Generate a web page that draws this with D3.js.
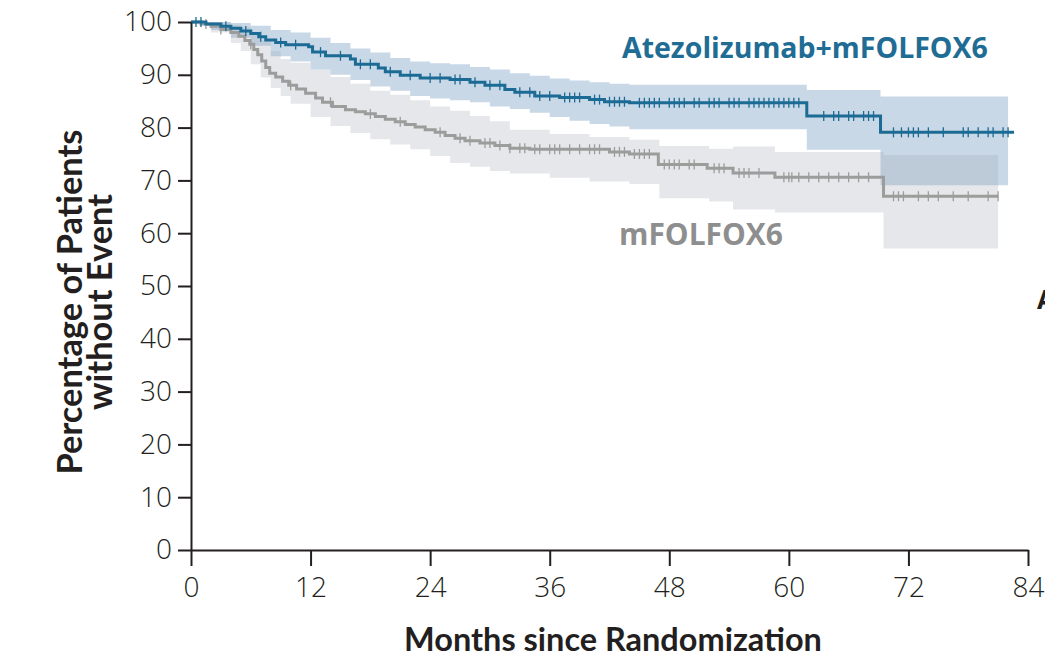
<!DOCTYPE html>
<html><head><meta charset="utf-8">
<script src="https://cdn.jsdelivr.net/npm/d3@7"></script>
<style>html,body{margin:0;padding:0;background:#fff;overflow:hidden}</style>
</head><body>
<svg id="chart" width="1045" height="660"></svg>
<script>
// ---- Data ----
const xTickValues = [0, 12, 24, 36, 48, 60, 72, 84];
const yTickValues = [0, 10, 20, 30, 40, 50, 60, 70, 80, 90, 100];
const seriesNames = ["Atezolizumab+mFOLFOX6", "mFOLFOX6"];

// Atezolizumab+mFOLFOX6 Kaplan-Meier steps
const atezoTime = [0, 1.5, 3, 4, 5, 6, 6.8, 7.5, 8.5, 9.5, 11.8, 12.2, 13.5, 16, 16.5, 18.8, 19.5, 21, 23, 26, 28, 29.5, 31.5, 32.5, 34.5, 37, 40, 41.5, 44, 61.8, 69.2, 82.6];
const atezoSurv = [100, 99.6, 99.2, 98.8, 98.3, 97.8, 97.2, 96.6, 96.1, 95.7, 95.3, 94.3, 93.6, 93.0, 92.0, 91.3, 90.6, 89.9, 89.4, 89.1, 88.6, 88.0, 87.2, 86.7, 86.0, 85.7, 85.3, 84.9, 84.7, 82.2, 79.1, 79.1];
const atezoCITime = [0, 2, 4, 6, 8, 10, 12, 14, 16, 18, 20, 22, 24, 26, 28, 30, 32, 34, 36, 38, 40, 42, 44, 61.8, 69.2, 82];
const atezoLower = [100, 98.5, 97, 95.5, 93.5, 92.5, 91, 90, 89, 87.8, 87, 86, 85.5, 85.2, 84.8, 84, 83.5, 82.8, 82, 81.3, 80.7, 80.2, 79.7, 75.8, 69.1, 69.1];
const atezoUpper = [100, 100, 99.8, 99.3, 98.5, 98, 97, 96, 95, 94.2, 93.2, 92.5, 92.2, 92, 91.5, 91, 90.3, 89.8, 89.3, 88.9, 88.6, 88.3, 88.1, 87.1, 85.9, 85.9];
const atezoCensor = [0.5, 1, 3.5, 5.5, 7, 9, 10.5, 13, 15, 17, 18, 20, 22, 24, 25, 26.5, 27, 28.5, 30, 31, 33, 34, 35, 36, 37.5, 38, 38.5, 39, 40.5, 41, 42, 42.5, 43, 43.5, 45, 45.5, 46, 46.5, 47, 48, 48.5, 49, 49.5, 50.5, 51, 52, 52.5, 53, 54, 54.5, 55, 56, 56.5, 57, 57.5, 58, 58.5, 59, 59.5, 60, 60.5, 61, 63.5, 64.5, 65, 66, 66.5, 67.5, 68, 68.5, 70.5, 71.3, 72, 72.5, 73, 74, 75.5, 77.5, 78, 79, 80, 80.5, 81.5, 82];

// mFOLFOX6 Kaplan-Meier steps
const folfoxTime = [0, 1, 2, 3, 4, 4.8, 5.4, 5.9, 6.3, 6.7, 7.1, 7.5, 7.9, 8.5, 9.2, 9.8, 10.6, 11.5, 12.5, 13.2, 14.2, 15.5, 16.5, 17.5, 18.5, 19.5, 20.5, 21.5, 22.5, 23.5, 24.5, 25.5, 26.5, 27.5, 29, 30.5, 32, 34, 42, 44, 46.9, 51.8, 54.4, 58.6, 69.5, 81];
const folfoxSurv = [100, 99.6, 99.2, 98.6, 98.0, 97.3, 96.5, 95.8, 94.8, 93.8, 92.6, 91.4, 90.3, 89.6, 88.8, 88.0, 87.3, 86.5, 85.6, 84.8, 84.0, 83.4, 83.0, 82.6, 82.1, 81.6, 81.1, 80.6, 80.1, 79.6, 79.1, 78.5, 78.0, 77.5, 77.1, 76.6, 76.1, 75.9, 75.4, 75.0, 73.0, 72.3, 71.4, 70.6, 67.0, 67.0];
const folfoxCITime = [0, 2, 4, 5, 6, 7, 8, 9, 10, 12, 14, 16, 18, 20, 22, 24, 26, 28, 30, 32, 36, 40, 44, 47, 52, 54.4, 58.6, 69.5, 81];
const folfoxLower = [100, 98, 96, 94.5, 92, 89.5, 87.5, 86, 84.5, 82, 80.3, 79, 77.8, 76.8, 75.9, 74.6, 73.3, 72.6, 71.8, 71.3, 70.5, 69.8, 69.3, 66.6, 66, 64.5, 63.9, 57.1, 57.1];
const folfoxUpper = [100, 100, 99.5, 99, 98, 96.5, 94.5, 93, 92.3, 91, 89.6, 88.3, 87, 86.2, 85.2, 84, 83.2, 82.2, 81.2, 79.6, 78.8, 78.2, 77.7, 76.5, 76, 76.4, 75.4, 74.8, 74.8];
const folfoxCensor = [1.5, 3, 6, 10, 14, 18, 21, 25, 27, 28, 29.5, 30, 31, 32, 33, 33.5, 34.5, 35, 36, 36.5, 37, 38, 39, 40, 40.5, 41, 42.5, 43, 43.5, 44.5, 45, 45.5, 46, 47.5, 48, 48.5, 49, 50, 50.5, 52.5, 53, 53.5, 55, 55.5, 56, 57, 59.5, 60, 60.3, 61, 62, 63, 64, 65, 66, 67, 68, 70.5, 71, 71.5, 73, 74, 75, 76.5, 78, 80, 81];

// ---- Layout ----
const svg = d3.select("#chart");
const x = d3.scaleLinear().domain([0, 84]).range([191, 1028]);
const y = d3.scaleLinear().domain([0, 100]).range([550, 22]);

const BLUE = "#1b6b95", BLUE_BAND = "#c8d8e7", GRAY = "#9c9c9c", GRAY_BAND = "#9fa4af";

function toPts(t, v) { return t.map((d, i) => [d, v[i]]); }
function toBand(t, lo, hi) { return t.map((d, i) => ({t: d, lo: lo[i], hi: hi[i]})); }

const area = d3.area().curve(d3.curveStepAfter)
  .x(d => x(d.t)).y0(d => y(d.lo)).y1(d => y(d.hi));
const line = d3.line().curve(d3.curveStepAfter)
  .x(d => x(d[0])).y(d => y(d[1]));

// bands
svg.append("path").attr("d", area(toBand(atezoCITime, atezoLower, atezoUpper)))
  .attr("fill", BLUE_BAND);
svg.append("path").attr("d", area(toBand(folfoxCITime, folfoxLower, folfoxUpper)))
  .attr("fill", GRAY_BAND).attr("fill-opacity", 0.26);

function survAt(times, surv, t) {
  const i = d3.bisectRight(times, t) - 1;
  return surv[Math.max(0, Math.min(i, surv.length - 1))];
}

function drawCurve(times, surv, censor, color) {
  svg.append("path").attr("d", line(toPts(times, surv)))
    .attr("fill", "none").attr("stroke", color).attr("stroke-width", 3);
  svg.append("g").selectAll("line").data(censor).join("line")
    .attr("x1", d => x(d)).attr("x2", d => x(d))
    .attr("y1", d => y(survAt(times, surv, d)) - 5)
    .attr("y2", d => y(survAt(times, surv, d)) + 5)
    .attr("stroke", color).attr("stroke-width", 1.3);
}
drawCurve(folfoxTime, folfoxSurv, folfoxCensor, GRAY);
drawCurve(atezoTime, atezoSurv, atezoCensor, BLUE);

// axes
const yAxis = svg.append("g").attr("transform", `translate(${x(0)},0)`)
  .call(d3.axisLeft(y).tickValues(yTickValues).tickSize(13).tickPadding(6).tickSizeOuter(0));
const xAxis = svg.append("g").attr("transform", `translate(0,${y(0)})`)
  .call(d3.axisBottom(x).tickValues(xTickValues).tickSize(16).tickPadding(11).tickSizeOuter(0));
[yAxis, xAxis].forEach(g => {
  g.select(".domain").attr("stroke", "#231f20").attr("stroke-width", 2);
  g.selectAll(".tick line").attr("stroke", "#231f20").attr("stroke-width", 2);
});
yAxis.selectAll(".tick text").attr("fill", "#231f20")
  .style("font-family", "'Open Sans', sans-serif").style("font-size", "28px").style("font-weight", 300);
xAxis.selectAll(".tick text").attr("fill", "#231f20")
  .style("font-family", "'Open Sans', sans-serif").style("font-size", "28px").style("font-weight", 300);

function fitWidth(sel, w) {
  const fs = parseFloat(sel.style("font-size"));
  const len = sel.node().getComputedTextLength();
  sel.style("font-size", (fs * w / len) + "px");
}

// axis titles
const xt = svg.append("text").attr("x", 613).attr("y", 651).attr("text-anchor", "middle")
  .attr("fill", "#231f20").style("font-family", "Lato, sans-serif")
  .style("font-weight", 700).style("font-size", "31px").text("Months since Randomization");
fitWidth(xt, 418);

const yt = svg.append("text").attr("transform", "translate(0,302) rotate(-90)")
  .attr("text-anchor", "middle").attr("fill", "#231f20")
  .style("font-family", "Lato, sans-serif").style("font-weight", 700).style("font-size", "28px");
const yt1 = yt.append("tspan").attr("x", 0).attr("y", 82).text("Percentage of Patients");
yt.append("tspan").attr("x", 0).attr("y", 112).text("without Event");
{
  const fs = 28, len = yt1.node().getComputedTextLength();
  yt.style("font-size", (fs * 345 / len) + "px");
}

// series labels
const l1 = svg.append("text").attr("x", 622).attr("y", 58).attr("fill", "#1f6d94")
  .style("font-family", "'Open Sans', sans-serif").style("font-weight", 700).style("font-size", "22px")
  .text(seriesNames[0]);
fitWidth(l1, 366);
const l2 = svg.append("text").attr("x", 619).attr("y", 245).attr("fill", "#8e8e8e")
  .style("font-family", "'Open Sans', sans-serif").style("font-weight", 700).style("font-size", "22px")
  .text(seriesNames[1]);
fitWidth(l2, 164);

// partial panel letter at right edge
svg.append("text").attr("x", 1037).attr("y", 309).attr("fill", "#231f20")
  .style("font-family", "'Open Sans', sans-serif").style("font-weight", 700).style("font-size", "26px").text("A");
</script>
</body></html>
